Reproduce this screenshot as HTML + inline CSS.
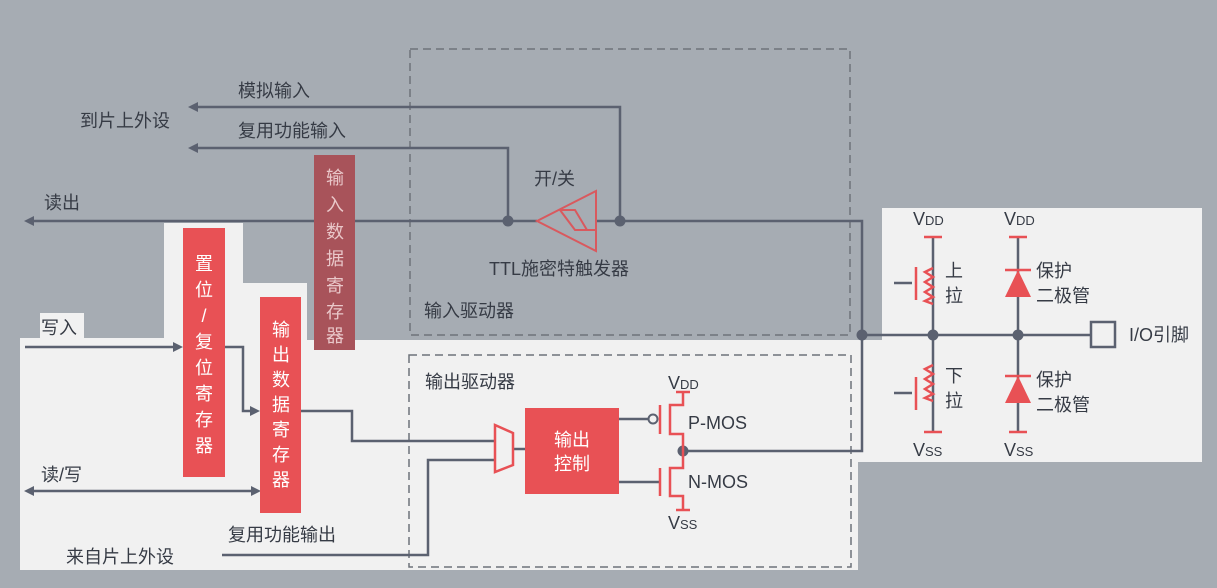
<!DOCTYPE html>
<html><head><meta charset="utf-8"><style>
html,body{margin:0;padding:0;background:#a6acb3;}
svg{display:block}
text{font-family:"Liberation Sans","Noto Sans CJK SC",sans-serif;fill:#363b45;font-size:18px}
.w{fill:#fff;font-size:18px}
</style></head><body>
<svg width="1217" height="588" viewBox="0 0 1217 588" xmlns="http://www.w3.org/2000/svg">
<rect width="1217" height="588" fill="#a6acb3"/>
<polygon points="20,338 164,338 164,223 243,223 243,283 307,283 307,340 882,340 882,208 1202,208 1202,462 858,462 858,570 20,570" fill="#f1f1f1"/>
<rect x="40" y="313" width="44" height="26" fill="#f1f1f1"/>
<g fill="none" stroke="#6e737b" stroke-width="1.5" stroke-dasharray="8,5">
<rect x="410" y="49" width="440" height="286"/>
<rect x="409" y="355" width="442" height="212"/>
</g>
<g fill="none" stroke="#5b6170" stroke-width="2.5">
<polyline points="192,107 620,107 620,221"/>
<polyline points="192,148 508,148 508,221"/>
<line x1="28" y1="221" x2="537" y2="221"/>
<polyline points="596,221 862,221 862,451 683,451"/>
<line x1="862" y1="335" x2="1091" y2="335"/>
<line x1="25" y1="347" x2="178" y2="347"/>
<polyline points="225,347 243,347 243,411 255,411"/>
<polyline points="301,411 352,411 352,441 495,441"/>
<line x1="30" y1="491" x2="255" y2="491"/>
<polyline points="222,555 428,555 428,460 495,460"/>
<line x1="513" y1="449" x2="525" y2="449"/>
<line x1="619" y1="419" x2="649" y2="419"/>
<line x1="619" y1="482" x2="660" y2="482"/>
<line x1="894" y1="283" x2="912" y2="283"/>
<line x1="894" y1="393" x2="912" y2="393"/>
<line x1="933" y1="237" x2="933" y2="432"/>
<line x1="1018" y1="237" x2="1018" y2="432"/>
</g>
<g fill="#5b6170">
<polygon points="188,107 198,102 198,112"/>
<polygon points="188,148 198,143 198,153"/>
<polygon points="24,221 34,216 34,226"/>
<polygon points="183,347 173,342 173,352"/>
<polygon points="260,411 250,406 250,416"/>
<polygon points="24,491 34,486 34,496"/>
<polygon points="261,491 251,486 251,496"/>
<circle cx="508" cy="221" r="5.5"/><circle cx="620" cy="221" r="5.5"/>
<circle cx="862" cy="335" r="5.5"/><circle cx="683" cy="451" r="5.5"/>
<circle cx="933" cy="335" r="5.5"/><circle cx="1018" cy="335" r="5.5"/>
</g>
<circle cx="653" cy="419" r="4.5" fill="#f1f1f1" stroke="#5b6170" stroke-width="2"/>
<rect x="1091" y="322" width="24" height="25" fill="#f1f1f1" stroke="#5b6170" stroke-width="2.5"/>
<g fill="none" stroke="#d9595e" stroke-width="2">
<polygon points="537,221 596,191 596,251"/>
<polyline points="560,210 575,210 587,230 596,230"/>
<polyline points="560,210 575,230 587,230"/>
</g>
<polygon points="495,425 513,433 513,465 495,472" fill="none" stroke="#e85155" stroke-width="2.5"/>
<rect x="314" y="155" width="41" height="195" fill="#a8535a"/>
<rect x="183" y="228" width="42" height="249" fill="#e85155"/>
<rect x="260" y="297" width="41" height="216" fill="#e85155"/>
<rect x="525" y="408" width="94" height="86" fill="#e85155"/>
<g fill="none" stroke="#e85155" stroke-width="2.5">
<line x1="676" y1="392" x2="690" y2="392"/>
<polyline points="683,392 683,405 670,405 670,434 683,434 683,451 683,468 670,468 670,496 683,496 683,510"/>
<line x1="676" y1="510" x2="690" y2="510"/>
<line x1="660" y1="405" x2="660" y2="434"/>
<line x1="660" y1="468" x2="660" y2="496"/>
<line x1="924" y1="237" x2="942" y2="237"/>
<line x1="924" y1="432" x2="942" y2="432"/>
<line x1="1009" y1="237" x2="1027" y2="237"/>
<line x1="1009" y1="432" x2="1027" y2="432"/>
<line x1="916" y1="267" x2="916" y2="300"/>
<line x1="916" y1="377" x2="916" y2="410"/>
<polyline points="933,268 925,272 933,277 925,282 933,287 925,292 933,297 925,301 933,304"/>
<polyline points="933,365 925,369 933,374 925,379 933,384 925,389 933,394 925,398 933,401"/>
<line x1="1005" y1="270" x2="1031" y2="270"/>
<line x1="1005" y1="376" x2="1031" y2="376"/>
</g>
<polygon points="1018,270 1005,297 1031,297" fill="#e85155"/>
<polygon points="1018,376 1005,403 1031,403" fill="#e85155"/>
<text x="238" y="97">模拟输入</text>
<text x="80" y="127">到片上外设</text>
<text x="238" y="137">复用功能输入</text>
<text x="44" y="209">读出</text>
<text x="534" y="185">开/关</text>
<text x="489" y="275">TTL施密特触发器</text>
<text x="424" y="317">输入驱动器</text>
<text x="41" y="334">写入</text>
<text x="41" y="481">读/写</text>
<text x="228" y="541">复用功能输出</text>
<text x="66" y="563">来自片上外设</text>
<text x="425" y="388">输出驱动器</text>
<text x="668" y="389">V<tspan font-size="13">DD</tspan></text>
<text x="688" y="429">P-MOS</text>
<text x="688" y="488">N-MOS</text>
<text x="668" y="529">V<tspan font-size="13">SS</tspan></text>
<text x="913" y="225">V<tspan font-size="13">DD</tspan></text>
<text x="1004" y="225">V<tspan font-size="13">DD</tspan></text>
<text x="913" y="456">V<tspan font-size="13">SS</tspan></text>
<text x="1004" y="456">V<tspan font-size="13">SS</tspan></text>
<text x="945" y="277">上</text><text x="945" y="302">拉</text>
<text x="945" y="382">下</text><text x="945" y="407">拉</text>
<text x="1036" y="277">保护</text><text x="1036" y="302">二极管</text>
<text x="1036" y="386">保护</text><text x="1036" y="411">二极管</text>
<text x="1129" y="341">I/O引脚</text>
<g class="w" text-anchor="middle">
<text class="w" x="335" y="184" style="fill:#e9c7c9">输</text><text class="w" x="335" y="211" style="fill:#e9c7c9">入</text><text class="w" x="335" y="238" style="fill:#e9c7c9">数</text><text class="w" x="335" y="265" style="fill:#e9c7c9">据</text><text class="w" x="335" y="292" style="fill:#e9c7c9">寄</text><text class="w" x="335" y="318" style="fill:#e9c7c9">存</text><text class="w" x="335" y="342" style="fill:#e9c7c9">器</text>
<text class="w" x="204" y="270">置</text><text class="w" x="204" y="296">位</text><text class="w" x="204" y="322">/</text><text class="w" x="204" y="348">复</text><text class="w" x="204" y="374">位</text><text class="w" x="204" y="400">寄</text><text class="w" x="204" y="426">存</text><text class="w" x="204" y="452">器</text>
<text class="w" x="281" y="336">输</text><text class="w" x="281" y="361">出</text><text class="w" x="281" y="386">数</text><text class="w" x="281" y="411">据</text><text class="w" x="281" y="436">寄</text><text class="w" x="281" y="461">存</text><text class="w" x="281" y="486">器</text>
<text class="w" x="572" y="446">输出</text><text class="w" x="572" y="470">控制</text>
</g>
</svg>
</body></html>
